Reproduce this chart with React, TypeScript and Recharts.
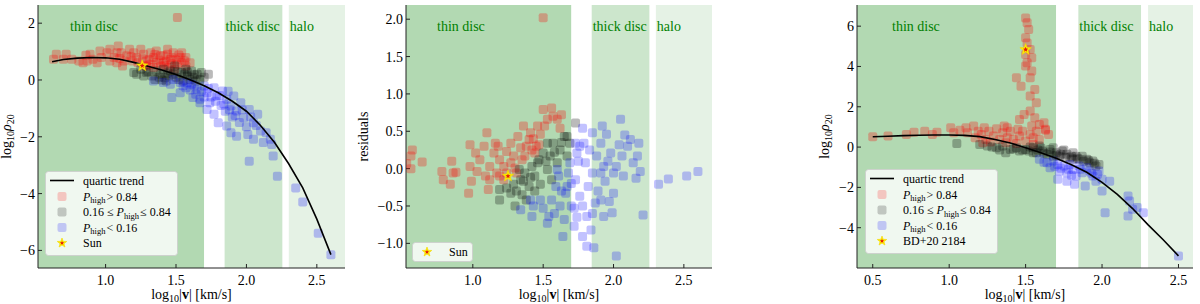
import { ReferenceArea, Scatter, ScatterChart, XAxis, YAxis } from 'recharts';

type Pt = [number, number];

// region limits in log10|v|
const THIN_END = 1.699;
const THICK_START = 1.845;
const THICK_END = 2.255;
const HALO_START = 2.301;

// panel 1: log10 rho20 vs log10 |v|
const P1_X_TICKS = [1.0, 1.5, 2.0, 2.5];
const P1_Y_TICKS = [-6, -4, -2, 0, 2];
const P1_RED: Pt[] = [
    [0.63, 0.73], [0.65, 0.91], [0.7, 0.73], [0.72, 0.91], [0.76, 0.73], [0.81, 0.67], [0.84, 0.61], [0.86, 0.87],
    [0.87, 0.67], [0.89, 0.91], [0.91, 0.73], [0.94, 0.61], [0.96, 1.02], [0.97, 0.79], [1.01, 0.96], [1.03, 1.08],
    [1.03, 0.67], [1.06, 0.79], [1.08, 0.61], [1.08, 0.96], [1.09, 1.2], [1.1, 0.76], [1.11, 0.96], [1.12, 0.49],
    [1.13, 0.67], [1.15, 0.85], [1.17, 1.08], [1.18, 0.82], [1.19, 0.67], [1.2, 0.96], [1.22, 0.79], [1.23, 0.61],
    [1.25, 1.08], [1.26, 0.75], [1.27, 0.91], [1.27, 0.49], [1.29, 0.67], [1.29, 0.49], [1.31, 0.72], [1.32, 0.96],
    [1.32, 0.55], [1.34, 0.79], [1.34, 0.44], [1.35, 0.9], [1.36, 1.02], [1.36, 0.61], [1.38, 0.7], [1.39, 0.85],
    [1.39, 0.49], [1.41, 0.61], [1.41, 0.85], [1.42, 0.52], [1.43, 0.66], [1.44, 0.91], [1.44, 1.08], [1.45, 0.44],
    [1.46, 0.73], [1.47, 0.79], [1.47, 0.58], [1.48, 0.96], [1.49, 0.38], [1.5, 0.7], [1.51, 0.55], [1.52, 0.88],
    [1.53, 0.79], [1.54, 0.61], [1.54, 0.96], [1.56, 0.68], [1.57, 0.49], [1.57, 0.79], [1.6, 0.61], [1.51, 2.2],
];
const P1_BLACK: Pt[] = [
    [1.2, 0.26], [1.22, 0.2], [1.25, 0.38], [1.27, 0.14], [1.29, 0.26], [1.3, 0.3], [1.33, 0.14], [1.35, 0.02],
    [1.36, 0.32], [1.38, 0.1], [1.39, 0.2], [1.4, 0.0], [1.41, 0.38], [1.42, 0.08], [1.43, -0.04], [1.44, 0.25],
    [1.45, 0.15], [1.46, 0.32], [1.48, 0.2], [1.49, 0.49], [1.5, 0.1], [1.51, 0.3], [1.52, 0.02], [1.54, 0.26],
    [1.55, -0.04], [1.56, 0.2], [1.57, 0.38], [1.58, 0.14], [1.58, 0.28], [1.6, 0.02], [1.61, 0.32], [1.62, 0.1],
    [1.63, 0.18], [1.64, -0.04], [1.65, 0.2], [1.67, 0.02], [1.68, 0.26], [1.7, 0.1], [1.73, 0.2],
];
const P1_BLUE: Pt[] = [
    [1.34, -0.04], [1.41, -0.09], [1.46, -0.15], [1.47, -0.62], [1.48, 0.02], [1.53, -0.09], [1.53, -0.45],
    [1.55, -0.2], [1.57, -0.27], [1.58, -0.1], [1.6, -0.35], [1.61, -0.15], [1.62, -0.62], [1.63, -0.2],
    [1.64, -0.5], [1.65, -0.33], [1.67, -0.8], [1.67, -0.68], [1.68, -0.4], [1.7, -0.21], [1.7, -0.6],
    [1.72, -0.45], [1.72, -1.04], [1.73, -0.3], [1.74, -0.8], [1.75, -0.6], [1.77, -0.27], [1.77, -1.21],
    [1.78, -0.75], [1.79, -0.56], [1.8, -1.51], [1.81, -0.55], [1.82, -0.9], [1.83, -0.39], [1.84, -0.85],
    [1.85, -1.1], [1.86, -0.68], [1.86, -1.62], [1.87, -0.4], [1.88, -1.05], [1.89, -0.92], [1.89, -1.86],
    [1.9, -1.3], [1.91, -0.56], [1.92, -1.25], [1.93, -1.09], [1.93, -1.98], [1.95, -1.5], [1.96, -0.8],
    [1.97, -1.05], [1.98, -1.33], [2.0, -1.65], [2.01, -1.92], [2.02, -1.04], [2.02, -2.86], [2.03, -1.3],
    [2.05, -1.51], [2.05, -2.09], [2.07, -1.6], [2.08, -1.21], [2.1, -1.8], [2.12, -2.2], [2.14, -1.86],
    [2.17, -2.09], [2.18, -2.27], [2.19, -2.68], [2.22, -3.39], [2.35, -3.8], [2.4, -4.3], [2.51, -5.4], [2.6, -6.15],
];
const P1_TREND: Pt[] = [
    [0.62, 0.64], [0.7, 0.72], [0.8, 0.77], [0.9, 0.79], [1.0, 0.78], [1.1, 0.73], [1.2, 0.62], [1.3, 0.48],
    [1.4, 0.35], [1.5, 0.19], [1.6, 0.01], [1.7, -0.2], [1.8, -0.45], [1.9, -0.75], [2.0, -1.1], [2.1, -1.6],
    [2.2, -2.2], [2.3, -2.95], [2.4, -3.8], [2.5, -4.9], [2.6, -6.15],
];
const P1_SUN: Pt[] = [[1.26, 0.5]];

// panel 2: residuals
const P2_X_TICKS = [1.0, 1.5, 2.0, 2.5];
const P2_Y_TICKS = [-1.0, -0.5, 0.0, 0.5, 1.0, 1.5, 2.0];
const P2_RED: Pt[] = [
    [0.53, 0.07], [0.56, 0.0], [0.57, 0.25], [0.56, 0.17], [0.64, 0.09], [0.78, -0.04], [0.79, -0.15], [0.84, -0.21],
    [0.85, 0.1], [0.86, -0.06], [0.88, -0.05], [0.97, -0.33], [0.98, 0.32], [0.98, 0.03], [0.99, -0.17], [1.02, 0.21],
    [1.03, -0.04], [1.05, 0.12], [1.08, 0.3], [1.09, -0.1], [1.1, 0.48], [1.11, -0.28], [1.12, 0.03], [1.12, -0.15],
    [1.15, 0.21], [1.16, 0.34], [1.17, -0.06], [1.18, 0.3], [1.19, 0.12], [1.19, -0.1], [1.22, 0.03], [1.22, -0.15],
    [1.24, 0.23], [1.24, -0.06], [1.27, 0.34], [1.27, 0.08], [1.29, 0.17], [1.3, 0.01], [1.31, -0.06], [1.32, 0.43],
    [1.34, 0.28], [1.35, 0.12], [1.36, 0.57], [1.37, 0.17], [1.38, 0.3], [1.4, 0.39], [1.41, 0.48], [1.42, 0.25],
    [1.43, 0.4], [1.44, 0.21], [1.45, 0.3], [1.46, 0.57], [1.47, 0.32], [1.48, 0.46], [1.5, 0.79], [1.51, 0.57],
    [1.53, 0.66], [1.56, 0.81], [1.57, 0.7], [1.6, 0.66], [1.62, 0.54], [1.63, 0.72], [1.5, 2.02],
];
const P2_BLACK: Pt[] = [
    [1.19, -0.28], [1.19, -0.42], [1.24, -0.26], [1.27, -0.33], [1.29, -0.21], [1.3, -0.5], [1.31, -0.3],
    [1.33, -0.01], [1.34, -0.15], [1.35, -0.35], [1.36, -0.17], [1.37, -0.06], [1.38, -0.42], [1.4, -0.24],
    [1.41, -0.12], [1.42, 0.03], [1.44, -0.1], [1.44, -0.3], [1.46, 0.08], [1.47, 0.12], [1.48, -0.21],
    [1.5, 0.21], [1.52, 0.1], [1.53, -0.01], [1.53, 0.34], [1.55, 0.17], [1.56, -0.15], [1.57, 0.34],
    [1.58, 0.22], [1.6, 0.08], [1.62, 0.25], [1.63, 0.35], [1.65, 0.43], [1.67, 0.17], [1.67, 0.43],
    [1.69, 0.34], [1.73, 0.61],
];
const P2_BLUE: Pt[] = [
    [1.34, -0.55], [1.41, -0.42], [1.42, -0.64], [1.43, -0.5], [1.48, -0.42], [1.5, -0.53], [1.53, -0.73],
    [1.54, -0.64], [1.56, -0.42], [1.58, -0.6], [1.59, -0.24], [1.6, -0.01], [1.61, -0.1], [1.62, -0.5],
    [1.63, -0.3], [1.64, -0.91], [1.65, -0.68], [1.66, -0.33], [1.67, -0.24], [1.68, -0.06], [1.69, 0.08],
    [1.7, -0.5], [1.7, -0.2], [1.72, -0.77], [1.72, -0.53], [1.73, -0.15], [1.73, 0.34], [1.74, 0.21],
    [1.74, -0.65], [1.75, 0.1], [1.76, 0.3], [1.76, -0.37], [1.78, 0.54], [1.78, -0.5], [1.78, -0.91],
    [1.79, 0.34], [1.8, 0.08], [1.81, -0.64], [1.81, -1.04], [1.82, -0.24], [1.83, 0.25], [1.84, -0.82],
    [1.85, 0.48], [1.85, -0.06], [1.85, -0.6], [1.86, -1.06], [1.87, -0.46], [1.88, 0.17], [1.89, -0.3],
    [1.91, 0.34], [1.91, -0.42], [1.91, -0.06], [1.92, 0.57], [1.93, 0.03], [1.93, -0.64], [1.94, -0.17],
    [1.95, 0.46], [1.96, 0.1], [1.97, -0.44], [1.98, 0.21], [1.99, -0.59], [2.0, -0.06], [2.0, -0.33],
    [2.02, -1.17], [2.02, 0.03], [2.04, 0.32], [2.05, 0.66], [2.06, 0.17], [2.07, -0.1], [2.08, 0.45],
    [2.1, 0.3], [2.12, 0.39], [2.14, 0.08], [2.16, -0.13], [2.17, 0.17], [2.18, 0.34], [2.19, -0.04],
    [2.21, -0.62], [2.32, -0.21], [2.39, -0.14], [2.52, -0.1], [2.6, -0.04],
];
const P2_SUN: Pt[] = [[1.25, -0.1]];

// panel 3: log10 rho20 vs log10 |v| around BD+20 2184
const P3_X_TICKS = [0.5, 1.0, 1.5, 2.0, 2.5];
const P3_Y_TICKS = [-4, -2, 0, 2, 4, 6];
const P3_RED: Pt[] = [
    [0.5, 0.51], [0.6, 0.55], [0.72, 0.63], [0.77, 0.74], [0.84, 0.79], [0.89, 0.63], [0.92, 0.74], [1.01, 0.96],
    [1.03, 0.71], [1.07, 0.84], [1.11, 0.96], [1.12, 0.71], [1.16, 1.04], [1.17, 0.46], [1.19, 0.79], [1.21, 0.63],
    [1.22, 0.21], [1.23, 0.96], [1.24, 0.38], [1.26, 0.79], [1.27, 0.25], [1.29, 0.55], [1.31, 0.91], [1.33, 0.38],
    [1.35, 0.71], [1.36, 1.04], [1.37, 0.21], [1.38, 0.46], [1.38, 0.96], [1.4, 0.79], [1.42, 0.38], [1.44, 0.18],
    [1.45, 0.88], [1.46, 0.55], [1.48, 0.79], [1.5, 0.3], [1.53, 0.63], [1.55, 0.46], [1.55, 0.13], [1.57, 0.79],
    [1.59, 0.38], [1.63, 0.88], [1.63, 0.84], [1.65, 0.63],
    [1.5, 6.41], [1.51, 6.17], [1.52, 5.83], [1.5, 5.42], [1.51, 5.17], [1.53, 4.84], [1.5, 4.6], [1.54, 4.43],
    [1.51, 4.18], [1.5, 4.02], [1.54, 3.77], [1.53, 3.44], [1.44, 3.44], [1.47, 3.02], [1.56, 2.86], [1.53, 2.53],
    [1.57, 2.2], [1.53, 1.79], [1.49, 1.62], [1.56, 1.45], [1.46, 1.37], [1.59, 1.12], [1.54, 1.04], [1.62, 1.21],
];
const P3_BLACK: Pt[] = [
    [1.05, 0.18], [1.2, 0.13], [1.25, 0.05], [1.28, 0.0], [1.31, -0.03], [1.33, -0.15], [1.35, 0.05], [1.37, -0.28],
    [1.4, -0.12], [1.42, -0.08], [1.44, -0.03], [1.46, -0.2], [1.48, -0.15], [1.5, -0.12], [1.52, -0.2],
    [1.53, 0.0], [1.55, -0.03], [1.55, -0.28], [1.57, -0.28], [1.58, -0.15], [1.59, 0.05], [1.6, -0.05],
    [1.61, -0.2], [1.62, -0.3], [1.64, -0.36], [1.66, -0.12], [1.66, -0.25], [1.68, -0.03], [1.68, -0.45],
    [1.7, -0.28], [1.7, -0.4], [1.72, -0.45], [1.73, -0.35], [1.74, -0.2], [1.75, -0.15], [1.76, -0.5],
    [1.77, -0.36], [1.79, -0.53], [1.8, -0.45], [1.81, -0.28], [1.81, -0.61], [1.83, -0.45], [1.84, -0.55],
    [1.85, -0.61], [1.87, -0.45], [1.88, -0.7], [1.9, -0.61], [1.91, -0.65], [1.92, -0.78], [1.94, -0.69],
    [1.95, -0.8], [1.96, -0.94], [1.98, -0.86],
];
const P3_BLUE: Pt[] = [
    [1.59, -0.61], [1.62, -0.75], [1.64, -0.78], [1.66, -1.02], [1.68, -0.69], [1.69, -0.95], [1.71, -0.86],
    [1.71, -1.6], [1.72, -1.19], [1.73, -1.05], [1.75, -0.94], [1.77, -1.27], [1.77, -1.69], [1.78, -1.1],
    [1.79, -0.86], [1.8, -1.4], [1.81, -1.11], [1.82, -1.85], [1.83, -1.44], [1.85, -0.94], [1.86, -1.1],
    [1.87, -1.27], [1.89, -1.93], [1.9, -1.02], [1.92, -1.19], [1.93, -1.3], [1.94, -1.44], [1.96, -1.69],
    [1.97, -1.35], [1.98, -1.19], [2.0, -1.6], [2.0, -2.18], [2.02, -3.26], [2.05, -1.69], [2.17, -2.43],
    [2.17, -3.42], [2.18, -2.68], [2.2, -3.09], [2.23, -3.0], [2.27, -3.26], [2.5, -5.4],
];
const P3_TREND: Pt[] = [
    [0.5, 0.51], [0.6, 0.54], [0.7, 0.57], [0.8, 0.59], [0.9, 0.6], [1.0, 0.6], [1.1, 0.58], [1.2, 0.52],
    [1.3, 0.38], [1.4, 0.2], [1.5, -0.03], [1.6, -0.28], [1.7, -0.55], [1.8, -0.88], [1.9, -1.25], [2.0, -1.75],
    [2.1, -2.35], [2.2, -3.05], [2.3, -3.85], [2.4, -4.6], [2.5, -5.4],
];
const P3_BD: Pt[] = [[1.5, 4.84]];

const SERIF = '"Liberation Serif", "Times New Roman", serif';
const GREEN = '#008000';

const pts = (a: Pt[]) => a.map(([x, y]) => ({ x, y }));
const minus = (s: string) => s.replace('-', '\u2212');
const fmtInt = (v: number) => minus(String(v));
const fmt1 = (v: number) => minus(v.toFixed(1));

function starPoints(cx: number, cy: number, R: number, r: number) {
    const out: string[] = [];
    for (let i = 0; i < 10; i++) {
        const a = -Math.PI / 2 + (i * Math.PI) / 5;
        const rad = i % 2 === 0 ? R : r;
        out.push(`${cx + rad * Math.cos(a)},${cy + rad * Math.sin(a)}`);
    }
    return out.join(' ');
}

function StarMark({ cx, cy, R = 6 }: { cx: number; cy: number; R?: number }) {
    return (
        <g>
            <polygon points={starPoints(cx, cy, R, R * 0.42)} fill="#ffee00" stroke="#f2d600" strokeWidth={0.6} />
            <polygon points={starPoints(cx, cy, R * 0.45, R * 0.2)} fill="#e3160b" />
        </g>
    );
}

const square = (fill: string, opacity: number) => (p: any) =>
    p.cx == null ? <g /> : (
        <rect x={p.cx - 4.5} y={p.cy - 4.5} width={9} height={9} rx={2} fill={fill} fillOpacity={opacity} />
    );

const starShape = (p: any) => (p.cx == null ? <g /> : <StarMark cx={p.cx} cy={p.cy} />);

const regionLabel = (text: string, dx: number) => (p: any) => {
    const vb = p.viewBox;
    if (!vb) return <g />;
    return (
        <text x={vb.x + dx} y={vb.y + 26} fill={GREEN} fontSize={14} fontFamily={SERIF}>
            {text}
        </text>
    );
};

const xTitle = (p: any) => {
    const vb = p.viewBox;
    if (!vb) return <g />;
    return (
        <text x={vb.x + vb.width / 2} y={vb.y + 31} textAnchor="middle" fontSize={14} fontFamily={SERIF} fill="#000">
            log<tspan dy={3} fontSize={10}>10</tspan>
            <tspan dy={-3}>|</tspan>
            <tspan fontWeight="bold">v</tspan>| [km/s]
        </text>
    );
};

const yTitle = (kind: 'rho' | 'res', baseX: number) => (p: any) => {
    const vb = p.viewBox;
    if (!vb) return <g />;
    const x = vb.x + baseX;
    const y = vb.y + vb.height / 2;
    return (
        <text x={x} y={y} transform={`rotate(-90 ${x} ${y})`} textAnchor="middle" fontSize={14} fontFamily={SERIF} fill="#000">
            {kind === 'res' ? (
                'residuals'
            ) : (
                <>
                    log<tspan dy={3} fontSize={10}>10</tspan>
                    <tspan dy={-3} fontStyle="italic">ρ</tspan>
                    <tspan dy={3} fontSize={10}>20</tspan>
                </>
            )}
        </text>
    );
};

type PanelProps = {
    left: number;
    width: number;
    yAxisWidth: number;
    marginRight: number;
    xDomain: [number, number];
    xTicks: number[];
    yDomain: [number, number];
    yTicks: number[];
    yFmt: (v: number) => string;
    yLabel: (p: any) => JSX.Element;
    thinDx: number;
    red: Pt[];
    black: Pt[];
    blue: Pt[];
    trend?: Pt[];
    star: Pt[];
};

const tickStyle = { fill: '#000', fontSize: 14, fontFamily: SERIF };

function Panel(props: PanelProps) {
    const { left, width, yAxisWidth, marginRight, xDomain, xTicks, yDomain, yTicks, yFmt, yLabel, thinDx } = props;
    return (
        <div style={{ position: 'absolute', left, top: 0 }}>
            <ScatterChart width={width} height={304} margin={{ top: 5, right: marginRight, bottom: 0, left: 0 }}>
                <XAxis
                    type="number"
                    dataKey="x"
                    domain={xDomain}
                    ticks={xTicks}
                    allowDataOverflow
                    tickFormatter={fmt1}
                    height={36}
                    tickSize={-4}
                    tickMargin={11}
                    tick={tickStyle}
                    stroke="#222"
                    label={xTitle}
                />
                <XAxis xAxisId="top" orientation="top" type="number" domain={xDomain} ticks={xTicks} allowDataOverflow height={0} tick={false} tickSize={-4} stroke="#222" />
                <YAxis
                    type="number"
                    dataKey="y"
                    domain={yDomain}
                    ticks={yTicks}
                    allowDataOverflow
                    tickFormatter={yFmt}
                    width={yAxisWidth}
                    tickSize={-4}
                    tickMargin={7}
                    tick={tickStyle}
                    stroke="#222"
                    label={yLabel}
                />
                <YAxis yAxisId="right" orientation="right" type="number" domain={yDomain} ticks={yTicks} allowDataOverflow width={0} tick={false} tickSize={-4} stroke="#222" />
                <ReferenceArea x1={xDomain[0]} x2={THIN_END} fill={GREEN} fillOpacity={0.3} stroke="none" ifOverflow="hidden" label={regionLabel('thin disc', thinDx)} />
                <ReferenceArea x1={THICK_START} x2={THICK_END} fill={GREEN} fillOpacity={0.2} stroke="none" ifOverflow="hidden" label={regionLabel('thick disc', 1)} />
                <ReferenceArea x1={HALO_START} x2={xDomain[1]} fill={GREEN} fillOpacity={0.1} stroke="none" ifOverflow="hidden" label={regionLabel('halo', 1)} />
                <Scatter data={pts(props.red)} shape={square('#ff0000', 0.28)} isAnimationActive={false} />
                <Scatter data={pts(props.black)} shape={square('#000000', 0.27)} isAnimationActive={false} />
                <Scatter data={pts(props.blue)} shape={square('#0000ff', 0.24)} isAnimationActive={false} />
                {props.trend && (
                    <Scatter
                        data={pts(props.trend)}
                        line={{ stroke: '#000', strokeWidth: 1.6 }}
                        lineType="joint"
                        shape={() => <g />}
                        isAnimationActive={false}
                    />
                )}
                <Scatter data={pts(props.star)} shape={starShape} isAnimationActive={false} />
            </ScatterChart>
        </div>
    );
}

function Sub({ children }: { children: string }) {
    return (
        <>
            <tspan dy={2.5} fontSize={8.5}>{children}</tspan>
            <tspan dy={-2.5}>{'\u200a'}</tspan>
        </>
    );
}

function Handle({ y, fill }: { y: number; fill: string }) {
    return <rect x={12.5} y={y - 4.5} width={9} height={9} rx={2} fill={fill} fillOpacity={0.2} />;
}

function BigLegend({ left, top, starLabel }: { left: number; top: number; starLabel: string }) {
    const rows = [9.5, 25.5, 41, 56.5, 72];
    const tx = 38;
    const t = (i: number) => rows[i] + 4;
    return (
        <svg style={{ position: 'absolute', left, top }} width={134} height={86}>
            <rect x={0.5} y={0.5} width={132} height={84} rx={3} fill="#fff" fillOpacity={0.8} stroke="#cccccc" strokeOpacity={0.8} />
            <g fontFamily={SERIF} fontSize={12} fill="#000">
                <line x1={5} x2={29} y1={rows[0]} y2={rows[0]} stroke="#000" strokeWidth={1.6} />
                <text x={tx} y={t(0)}>quartic trend</text>
                <Handle y={rows[1]} fill="#ff0000" />
                <text x={tx} y={t(1)}>
                    <tspan fontStyle="italic">P</tspan>
                    <Sub>high</Sub>
                    {'> 0.84'}
                </text>
                <Handle y={rows[2]} fill="#000000" />
                <text x={tx} y={t(2)}>
                    {'0.16 ≤ '}
                    <tspan fontStyle="italic">P</tspan>
                    <Sub>high</Sub>
                    {'≤ 0.84'}
                </text>
                <Handle y={rows[3]} fill="#0000ff" />
                <text x={tx} y={t(3)}>
                    <tspan fontStyle="italic">P</tspan>
                    <Sub>high</Sub>
                    {'< 0.16'}
                </text>
                <StarMark cx={17} cy={rows[4]} R={5} />
                <text x={tx} y={t(4)}>{starLabel}</text>
            </g>
        </svg>
    );
}

function SunLegend({ left, top }: { left: number; top: number }) {
    return (
        <svg style={{ position: 'absolute', left, top }} width={62} height={21}>
            <rect x={0.5} y={0.5} width={60} height={19} rx={3} fill="#fff" fillOpacity={0.8} stroke="#cccccc" strokeOpacity={0.8} />
            <StarMark cx={15} cy={10} R={5} />
            <text x={37} y={14} fontFamily={SERIF} fontSize={12} fill="#000">Sun</text>
        </svg>
    );
}

export default function App() {
    return (
        <div style={{ position: 'absolute', left: 0, top: 0, width: 1200, height: 304, background: '#fff', overflow: 'hidden' }}>
            <Panel
                left={0}
                width={360}
                yAxisWidth={38}
                marginRight={15}
                xDomain={[0.52, 2.7]}
                xTicks={P1_X_TICKS}
                yDomain={[-6.62, 2.64]}
                yTicks={P1_Y_TICKS}
                yFmt={fmtInt}
                yLabel={yTitle('rho', 11)}
                thinDx={32}
                red={P1_RED}
                black={P1_BLACK}
                blue={P1_BLUE}
                trend={P1_TREND}
                star={P1_SUN}
            />
            <Panel
                left={352}
                width={378}
                yAxisWidth={54}
                marginRight={18}
                xDomain={[0.525, 2.7]}
                xTicks={P2_X_TICKS}
                yDomain={[-1.33, 2.19]}
                yTicks={P2_Y_TICKS}
                yFmt={fmt1}
                yLabel={yTitle('res', 16)}
                thinDx={31}
                red={P2_RED}
                black={P2_BLACK}
                blue={P2_BLUE}
                star={P2_SUN}
            />
            <Panel
                left={790}
                width={410}
                yAxisWidth={67}
                marginRight={7}
                xDomain={[0.397, 2.595]}
                xTicks={P3_X_TICKS}
                yDomain={[-6.0, 7.05]}
                yTicks={P3_Y_TICKS}
                yFmt={fmtInt}
                yLabel={yTitle('rho', 39)}
                thinDx={35}
                red={P3_RED}
                black={P3_BLACK}
                blue={P3_BLUE}
                trend={P3_TREND}
                star={P3_BD}
            />
            <BigLegend left={45} top={171} starLabel="Sun" />
            <SunLegend left={412} top={242} />
            <BigLegend left={865} top={169} starLabel="BD+20 2184" />
        </div>
    );
}
